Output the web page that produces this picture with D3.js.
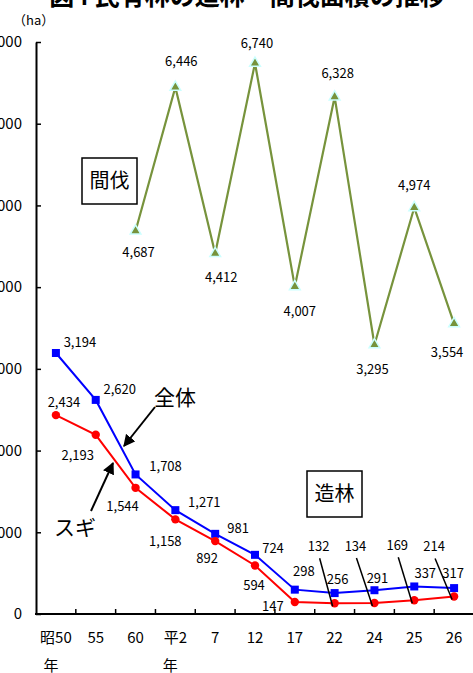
<!DOCTYPE html>
<html><head><meta charset="utf-8">
<script src="https://cdn.jsdelivr.net/npm/d3@7"></script>
<style>
html,body{margin:0;padding:0;background:#fff;overflow:hidden}
text{font-family:"Noto Sans CJK JP","Noto Sans",sans-serif;fill:#000}
</style></head>
<body>
<svg id="c" width="473" height="673"></svg>
<script>
// ---- data ----
const categories = ["昭50", "55", "60", "平2", "7", "12", "17", "22", "24", "25", "26"];
const subLabels  = ["年", "", "", "年", "", "", "", "", "", "", ""];
const totalPlant = [3194, 2620, 1708, 1271, 981, 724, 298, 256, 291, 337, 317];   // 造林 全体
const sugiPlant  = [2434, 2193, 1544, 1158, 892, 594, 147, 132, 134, 169, 214];   // 造林 スギ
const thinning   = [null, null, 4687, 6446, 4412, 6740, 4007, 6328, 3295, 4974, 3554]; // 間伐
const yTicks     = [0, 1000, 2000, 3000, 4000, 5000, 6000, 7000];

// ---- label layout (offsets from each point, styles only) ----
const totalOff = [[24,-11],[24,-11],[30,-8],[29,-8],[23,-6],[18,-7],[9,-18],[3,-14],[3,-12],[11,-13],[-1,-15]];
const sugiOff  = [[8,-13],[-18,21],[-13,18],[-10,22],[-8,17],[-1,20],[-22,4],[-16,-57],[-19,-57],[-17,-55],[-20,-50]];
const sugiLeader = [false,false,false,false,false,false,false,true,true,true,true];
const thinOff  = [null,null,[3,21],[6,-26],[6,24],[2,-20],[5,25],[3,-24],[-2,25],[0,-22],[-7,29]];

const svg = d3.select("#c");
const fmt = d3.format(",");

const x = d3.scaleBand().domain(categories).range([36, 474]).padding(0);
const y = d3.scaleLinear().domain([0, 7000]).range([614, 42]);
const cx = (i) => x(categories[i]) + x.bandwidth() / 2;

// title (cut at top)
svg.append("text").attr("x", 247).attr("y", 5).attr("text-anchor", "middle")
  .style("font-size", "25px").style("font-weight", "bold")
  .text("図4 民有林の造林・間伐面積の推移");
svg.append("text").attr("x", 13).attr("y", 25)
  .style("font-size", "13px").text("（ha）");

// y axis
const yAxis = d3.axisLeft(y).tickValues(yTicks).tickSizeInner(-5).tickSizeOuter(0)
  .tickPadding(14).tickFormat(d3.format("d"));
const gy = svg.append("g").attr("transform", "translate(36,0)").call(yAxis);
gy.select(".domain").attr("stroke", "#000").attr("stroke-width", 2);
gy.selectAll(".tick line").attr("stroke", "#000").attr("stroke-width", 1.5);
gy.selectAll(".tick text").style("font-size", "15px").attr("font-family", null);

// x axis
svg.append("line").attr("x1", 35).attr("x2", 474).attr("y1", y(0)).attr("y2", y(0))
  .attr("stroke", "#000").attr("stroke-width", 2);
svg.append("g").selectAll("line").data(categories).join("line")
  .attr("x1", d => x(d) + x.bandwidth()).attr("x2", d => x(d) + x.bandwidth())
  .attr("y1", y(0)).attr("y2", y(0) - 5).attr("stroke", "#000").attr("stroke-width", 1.5);
svg.append("g").selectAll("text").data(categories).join("text")
  .attr("x", d => x(d) + x.bandwidth() / 2).attr("y", 643).attr("text-anchor", "middle")
  .style("font-size", "15px").text(d => d);
svg.append("g").selectAll("text").data(subLabels).join("text")
  .attr("x", (d, i) => cx(i) - 5).attr("y", 671).attr("text-anchor", "middle")
  .style("font-size", "15px").text(d => d);

// lines
const line = d3.line().defined(d => d.v != null).x(d => cx(d.i)).y(d => y(d.v));
const toPts = arr => arr.map((v, i) => ({v, i}));

svg.append("path").datum(toPts(thinning)).attr("d", line)
  .attr("fill", "none").attr("stroke", "#77933C").attr("stroke-width", 2.2);
svg.append("path").datum(toPts(totalPlant)).attr("d", line)
  .attr("fill", "none").attr("stroke", "#0000FF").attr("stroke-width", 2);
svg.append("path").datum(toPts(sugiPlant)).attr("d", line)
  .attr("fill", "none").attr("stroke", "#FF0000").attr("stroke-width", 2);

// markers
svg.append("g").selectAll("path").data(toPts(thinning).filter(d => d.v != null)).join("path")
  .attr("d", d3.symbol().type(d3.symbolTriangle).size(50))
  .attr("transform", d => `translate(${cx(d.i)},${y(d.v)})`)
  .attr("fill", "#77933C").attr("stroke", "#CCFFFF").attr("stroke-width", 1.5);
svg.append("g").selectAll("rect").data(toPts(totalPlant)).join("rect")
  .attr("x", d => cx(d.i) - 4).attr("y", d => y(d.v) - 4).attr("width", 8).attr("height", 8)
  .attr("fill", "#0000FF");
svg.append("g").selectAll("circle").data(toPts(sugiPlant)).join("circle")
  .attr("cx", d => cx(d.i)).attr("cy", d => y(d.v)).attr("r", 4.2).attr("fill", "#FF0000");

// data labels
function labels(arr, off) {
  svg.append("g").selectAll("text").data(toPts(arr).filter(d => d.v != null)).join("text")
    .attr("x", d => cx(d.i) + off[d.i][0]).attr("y", d => y(d.v) + off[d.i][1])
    .attr("dy", "0.36em").attr("text-anchor", "middle").style("font-size", "13px")
    .text(d => fmt(d.v));
}
labels(thinning, thinOff);
labels(totalPlant, totalOff);
labels(sugiPlant, sugiOff);

// leader lines for small スギ values
svg.append("g").selectAll("line").data(toPts(sugiPlant).filter(d => sugiLeader[d.i])).join("line")
  .attr("x1", d => cx(d.i) + sugiOff[d.i][0] + 1).attr("y1", d => y(d.v) + sugiOff[d.i][1] + 12)
  .attr("x2", d => cx(d.i) - 2).attr("y2", d => y(d.v) + 3)
  .attr("stroke", "#000").attr("stroke-width", 1.5);

// boxes
function boxLabel(txt, x0, y0, w, h) {
  svg.append("rect").attr("x", x0).attr("y", y0).attr("width", w).attr("height", h)
    .attr("fill", "#fff").attr("stroke", "#000").attr("stroke-width", 1.5);
  svg.append("text").attr("x", x0 + w / 2).attr("y", y0 + h / 2).attr("dy", "0.36em")
    .attr("text-anchor", "middle").style("font-size", "20px").text(txt);
}
boxLabel("間伐", 82, 158, 55, 46);
boxLabel("造林", 307, 471, 55, 46);

// arrows
const defs = svg.append("defs");
defs.append("marker").attr("id", "ah").attr("viewBox", "0 0 10 10").attr("refX", 9).attr("refY", 5)
  .attr("markerWidth", 6).attr("markerHeight", 6).attr("orient", "auto")
  .append("path").attr("d", "M0,0 L10,5 L0,10 z").attr("fill", "#000");
svg.append("line").attr("x1", 155).attr("y1", 407).attr("x2", 124).attr("y2", 446)
  .attr("stroke", "#000").attr("stroke-width", 2).attr("marker-end", "url(#ah)");
svg.append("line").attr("x1", 91).attr("y1", 511).attr("x2", 113).attr("y2", 463)
  .attr("stroke", "#000").attr("stroke-width", 2).attr("marker-end", "url(#ah)");
svg.append("text").attr("x", 175).attr("y", 397).attr("dy", "0.36em").attr("text-anchor", "middle")
  .style("font-size", "21px").text("全体");
svg.append("text").attr("x", 75).attr("y", 527).attr("dy", "0.36em").attr("text-anchor", "middle")
  .style("font-size", "21px").text("スギ");
</script>
</body></html>
